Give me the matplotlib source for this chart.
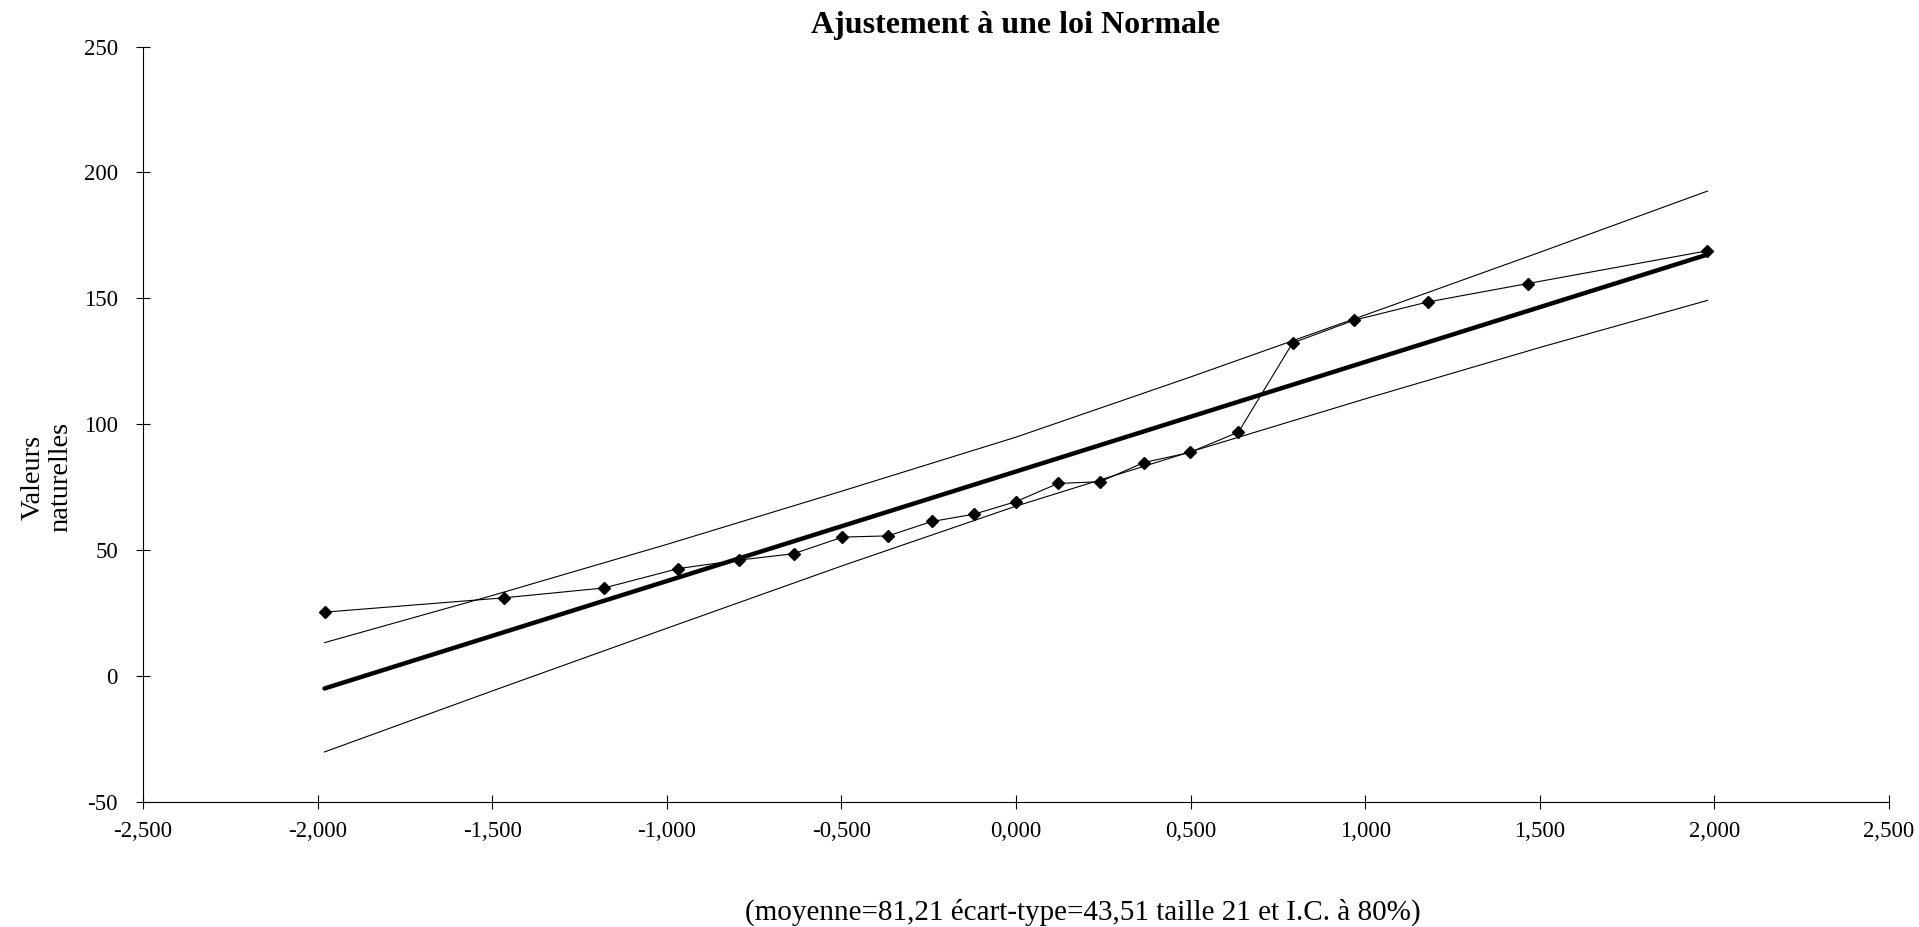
import numpy as np
import matplotlib
matplotlib.use("Agg")
import matplotlib.pyplot as plt
from matplotlib.ticker import FuncFormatter

plt.rcParams['font.family'] = ['Liberation Serif', 'DejaVu Serif']
plt.rcParams['axes.unicode_minus'] = False

# quantiles de la loi normale (abscisses) et valeurs observées
quantiles = [-1.980, -1.466, -1.180, -0.967, -0.792, -0.637, -0.497, -0.366, -0.241, -0.120, 0.000,
             0.120, 0.241, 0.366, 0.497, 0.637, 0.792, 0.967, 1.180, 1.466, 1.980]
valeurs = [25.4, 31.1, 35.0, 42.7, 46.1, 48.6, 55.2, 55.7, 61.4, 64.3, 69.3,
           76.5, 77.2, 84.8, 88.8, 96.9, 132.3, 141.3, 148.6, 155.9, 168.9]

# droite d'ajustement
droite_x = [-1.98, 1.98]
droite_y = [-4.9, 167.4]

# bornes de l'intervalle de confiance
ic_x = [-1.98, -1.5, -1.0, -0.5, 0.0, 0.5, 1.0, 1.5, 1.98]
ic_haut = [13.3, 32.0, 52.3, 73.4, 94.9, 118.8, 143.4, 168.3, 192.6]
ic_bas = [-30.1, -5.9, 19.0, 43.7, 67.5, 89.1, 110.1, 130.5, 149.2]

fig = plt.figure(figsize=(19.19, 9.27), dpi=100)
ax = fig.add_axes([0.0745, 0.1348, 0.9099, 0.815])

ax.plot(ic_x, ic_haut, color='black', lw=0.8)
ax.plot(ic_x, ic_bas, color='black', lw=0.8)
ax.plot(droite_x, droite_y, color='black', lw=3.2, solid_capstyle='round')
ax.plot(quantiles, valeurs, color='black', lw=0.8, marker='D', markersize=6.5)

ax.set_xlim(-2.5, 2.5)
ax.set_ylim(-50, 250)
ax.set_xticks(np.arange(-2.5, 2.51, 0.5))
ax.set_yticks(np.arange(-50, 251, 50))
ax.xaxis.set_major_formatter(FuncFormatter(lambda v, p: f"{v:.3f}".replace('.', ',').replace('-0,000', '0,000')))
ax.tick_params(direction='inout', length=10, width=0.8, labelsize=16.5)
ax.tick_params(axis='x', pad=9)
ax.tick_params(axis='y', pad=13)
ax.spines['top'].set_visible(False)
ax.spines['right'].set_visible(False)

fig.text(0.529, 0.972, "Ajustement à une loi Normale", ha='center', va='center',
         fontsize=23, fontweight='bold')
fig.text(0.0245, 0.485, "Valeurs\nnaturelles", ha='center', va='center',
         rotation=90, fontsize=20.5, linespacing=1.15)
fig.text(0.564, 0.016, "(moyenne=81,21 écart-type=43,51 taille 21 et I.C. à 80%)",
         ha='center', va='center', fontsize=21)

fig.savefig("out.png", dpi=100)
